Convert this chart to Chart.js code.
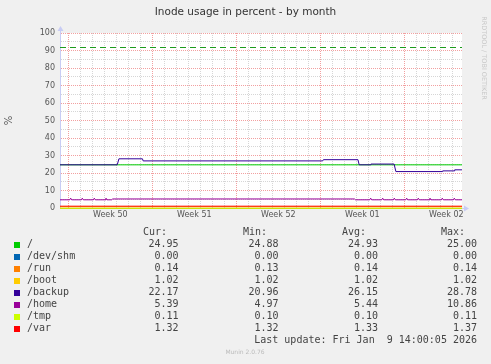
<!DOCTYPE html>
<html>
<head>
<meta charset="utf-8">
<script src="https://cdn.jsdelivr.net/npm/chart.js@4/dist/chart.umd.min.js"></script>
<style>
  html, body { margin: 0; padding: 0; background: #f0f0f0; }
  #chart { display: block; }
</style>
</head>
<body>
<canvas id="chart" width="491" height="364"></canvas>
<script>
// eje x: dias desde el lunes de la semana 50 (8 dic 2025)
const xRange = [-0.69, 32.81];
const weekStarts = [0, 7, 14, 21, 28];
const weekLabels = ["Week 50", "Week 51", "Week 52", "Week 01", "Week 02"];
const warningLevel = 92;

const seriesNames = ["/", "/dev/shm", "/run", "/boot", "/backup", "/home", "/tmp", "/var"];
const seriesColors = ["#00CC00", "#0066B3", "#FF8000", "#FFCC00", "#330099", "#990099", "#CCFF00", "#FF0000"];

// series planas
const flatX = [-0.69, 32.81];
const rootY = [24.95, 24.95];
const shmY = [0, 0];
const runY = [0.14, 0.14];
const bootY = [1.02, 1.02];
const tmpY = [0.11, 0.11];
const varY = [1.32, 1.32];

// /backup con escalones
const backupX = [-0.69, 4.08, 4.22, 6.18, 6.24, 21.2, 21.26, 24.14, 24.24, 25.17, 25.22, 27.15, 27.3, 31.15, 31.2, 32.15, 32.2, 32.81];
const backupY = [24.97, 24.97, 28.4, 28.4, 27.2, 27.2, 27.9, 27.9, 24.97, 24.97, 25.4, 25.4, 21.1, 21.1, 21.5, 21.5, 22.1, 22.1];

// /home con picos diarios
const homeX = [-0.69, 0.12, 0.2, 0.28, 1.09, 1.17, 1.25, 2.09, 2.17, 2.25, 3.06, 3.14, 3.22, 3.62, 3.7,
  23.85, 23.93, 25.12, 25.2, 25.28, 26.12, 26.2, 26.28, 27.09, 27.17, 27.25, 28.12, 28.2, 28.28,
  29.09, 29.17, 29.25, 30.06, 30.14, 30.22, 31.09, 31.17, 31.25, 32.09, 32.17, 32.25, 32.81];
const homeY = [4.97, 4.97, 5.9, 4.97, 4.97, 5.9, 4.97, 4.97, 5.9, 4.97, 4.97, 5.9, 4.97, 4.97, 5.45,
  5.45, 4.97, 4.97, 5.9, 4.97, 4.97, 5.9, 4.97, 4.97, 5.9, 4.97, 4.97, 5.9, 4.97,
  4.97, 5.9, 4.97, 4.97, 5.9, 4.97, 4.97, 5.9, 4.97, 4.97, 5.9, 4.97, 4.97];

// valores de la leyenda
const curVals = ["24.95", "0.00", "0.14", "1.02", "22.17", "5.39", "0.11", "1.32"];
const minVals = ["24.88", "0.00", "0.13", "1.02", "20.96", "4.97", "0.10", "1.32"];
const avgVals = ["24.93", "0.00", "0.14", "1.02", "26.15", "5.44", "0.10", "1.33"];
const maxVals = ["25.00", "0.00", "0.14", "1.02", "28.78", "10.86", "0.11", "1.37"];
const lastUpdate = "Last update: Fri Jan  9 14:00:05 2026";

const seriesX = [flatX, flatX, flatX, flatX, backupX, homeX, flatX, flatX];
const seriesY = [rootY, shmY, runY, bootY, backupY, homeY, tmpY, varY];

const axisColor = "#c8ccf4";
const minorGrid = "#d6d6d6";
const majorGrid = "#f2a0a0";

// el primer dataset se dibuja encima, por eso se invierte
const datasets = seriesNames.map((name, i) => ({
    label: name,
    data: seriesX[i].map((x, j) => ({ x: x, y: seriesY[i][j] })),
    borderColor: seriesColors[i],
    borderWidth: 1,
    pointRadius: 0,
    tension: 0,
    clip: false
})).reverse();

datasets.push({
    label: "warning",
    data: xRange.map(x => ({ x: x, y: warningLevel })),
    borderColor: "#1c9c1c",
    borderWidth: 1,
    borderDash: [6, 4],
    pointRadius: 0
});

// ticks del eje x: cada dia + mitad de cada semana (para las etiquetas)
function buildDayTicks(scale) {
    const ticks = [];
    for (let d = Math.ceil(xRange[0]); d <= xRange[1]; d++) ticks.push({ value: d });
    weekStarts.forEach(w => ticks.push({ value: w + 3.5 }));
    ticks.sort((a, b) => a.value - b.value);
    scale.ticks = ticks;
}

const muninPlugin = {
    id: "munin",
    beforeDraw(chart) {
        const { ctx, chartArea: a } = chart;
        ctx.save();
        ctx.fillStyle = "#ffffff";
        ctx.fillRect(a.left, a.top, a.right - a.left, a.bottom - a.top);
        ctx.restore();
    },
    // medio pixel hacia abajo para que las lineas de 1px queden nitidas
    beforeDatasetsDraw(chart) {
        chart.ctx.save();
        chart.ctx.translate(0, 0.5);
    },
    afterDatasetsDraw(chart) {
        chart.ctx.restore();
    },
    afterDraw(chart) {
        const { ctx, chartArea: a } = chart;
        ctx.save();

        // flechas de los ejes
        ctx.fillStyle = axisColor;
        ctx.fillRect(a.left, a.top - 3, 1, 3);
        ctx.beginPath();
        ctx.moveTo(a.left + 0.5, a.top - 7);
        ctx.lineTo(a.left - 2.5, a.top - 2);
        ctx.lineTo(a.left + 3.5, a.top - 2);
        ctx.closePath();
        ctx.fill();
        ctx.fillRect(a.right, a.bottom, 2, 1);
        ctx.beginPath();
        ctx.moveTo(a.right + 7, a.bottom + 0.5);
        ctx.lineTo(a.right + 2, a.bottom - 2.5);
        ctx.lineTo(a.right + 2, a.bottom + 3.5);
        ctx.closePath();
        ctx.fill();

        // titulo
        ctx.fillStyle = "#333";
        ctx.font = '10.5px "DejaVu Sans"';
        ctx.textAlign = "center";
        ctx.textBaseline = "alphabetic";
        ctx.fillText("Inode usage in percent - by month", 245.5, 15);

        // texto vertical derecho
        ctx.save();
        ctx.translate(484, 58);
        ctx.rotate(Math.PI / 2);
        ctx.fillStyle = "#c8c8c8";
        ctx.font = '6.5px "DejaVu Sans"';
        ctx.textBaseline = "middle";
        ctx.fillText("RRDTOOL / TOBI OETIKER", 0, 0);
        ctx.restore();

        // leyenda
        ctx.font = '10px "DejaVu Sans Mono"';
        ctx.textBaseline = "middle";
        ctx.fillStyle = "#444";
        ctx.textAlign = "left";
        ctx.fillText("Cur:", 143, 232);
        ctx.fillText("Min:", 243, 232);
        ctx.fillText("Avg:", 342, 232);
        ctx.fillText("Max:", 441, 232);

        seriesNames.forEach((name, i) => {
            const y = 244.5 + 12 * i;
            ctx.fillStyle = seriesColors[i];
            ctx.fillRect(14, 242 + 12 * i, 6, 6);
            ctx.fillStyle = "#444";
            ctx.textAlign = "left";
            ctx.fillText(name, 27, y);
            ctx.textAlign = "right";
            ctx.fillText(curVals[i], 178.5, y);
            ctx.fillText(minVals[i], 278.5, y);
            ctx.fillText(avgVals[i], 378, y);
            ctx.fillText(maxVals[i], 477, y);
        });
        ctx.textAlign = "right";
        ctx.fillText(lastUpdate, 477, 340.5);

        ctx.fillStyle = "#bbb";
        ctx.font = '6px "DejaVu Sans"';
        ctx.textAlign = "center";
        ctx.fillText("Munin 2.0.76", 245, 352.5);
        ctx.restore();
    }
};

const myChart = new Chart("chart", {
    type: "line",
    data: { datasets: datasets },
    plugins: [muninPlugin],
    options: {
        responsive: false,
        animation: false,
        devicePixelRatio: 1,
        layout: { padding: { top: 33, right: 29, bottom: 0, left: 0 } },
        plugins: {
            legend: { display: false },
            tooltip: { enabled: false },
            title: { display: false }
        },
        scales: {
            x: {
                type: "linear",
                bounds: "data",
                min: xRange[0],
                max: xRange[1],
                afterBuildTicks: buildDayTicks,
                afterFit: s => { s.height = 156; },
                grid: {
                    drawTicks: false,
                    lineWidth: 1,
                    color: ctx => {
                        const v = ctx.tick ? ctx.tick.value : 0;
                        if (!Number.isInteger(v)) return "rgba(0,0,0,0)";
                        return weekStarts.includes(v) ? majorGrid : minorGrid;
                    }
                },
                border: { display: true, color: axisColor, width: 1, dash: [1, 1] },
                ticks: {
                    autoSkip: false,
                    maxRotation: 0,
                    padding: 2,
                    color: "#555",
                    font: { family: "DejaVu Sans", size: 8 },
                    callback: v => {
                        const k = weekStarts.indexOf(v - 3.5);
                        return k >= 0 ? weekLabels[k] : "";
                    }
                }
            },
            y: {
                min: 0,
                max: 100,
                afterFit: s => { s.width = 60; },
                grid: {
                    drawTicks: false,
                    lineWidth: 1,
                    color: ctx => (ctx.tick && ctx.tick.value % 10 === 0) ? majorGrid : minorGrid
                },
                border: { display: true, color: axisColor, width: 1, dash: [1, 1] },
                title: {
                    display: true,
                    text: "%",
                    color: "#555",
                    font: { family: "DejaVu Sans", size: 10 },
                    padding: { top: 3, bottom: 0 }
                },
                ticks: {
                    stepSize: 5,
                    autoSkip: false,
                    padding: 5,
                    color: "#555",
                    font: { family: "DejaVu Sans", size: 8 },
                    callback: v => (v % 10 === 0 ? String(v) : "")
                }
            }
        }
    }
});
</script>
</body>
</html>
